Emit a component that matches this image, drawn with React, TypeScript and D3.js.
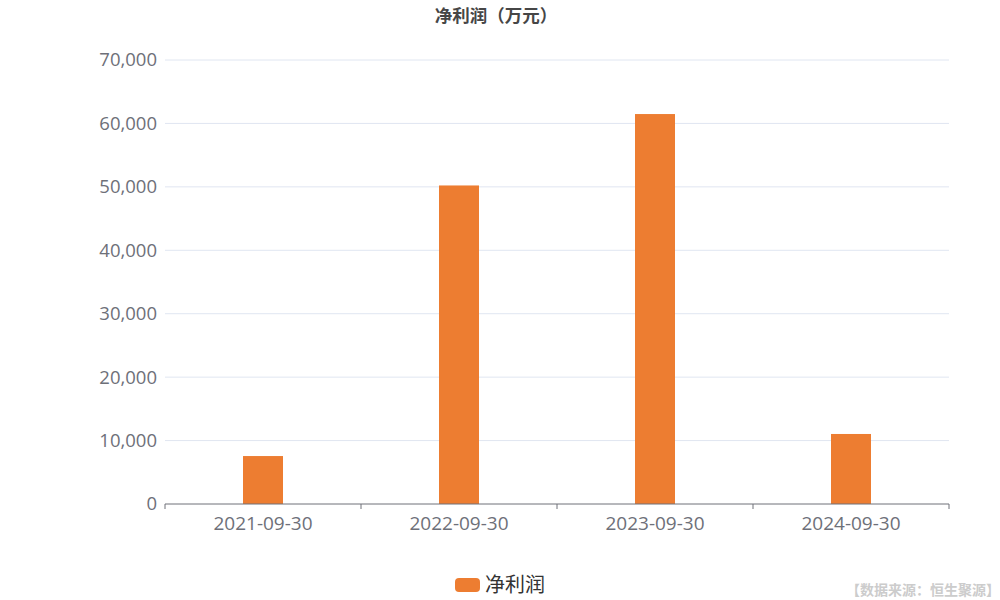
import * as d3 from 'd3';

const categories = ['2021-09-30', '2022-09-30', '2023-09-30', '2024-09-30'];
const netProfit = [7560, 50220, 61480, 11040];
const yTicks = [0, 10000, 20000, 30000, 40000, 50000, 60000, 70000];

const W = 1000;
const H = 600;
const margin = { top: 60, right: 51, bottom: 96, left: 165 };
const CN = '"Noto Sans CJK SC", "Open Sans", sans-serif';
const NUM = '"Open Sans", "Noto Sans CJK SC", sans-serif';

export default function App() {
  const x = d3.scaleBand<string>()
    .domain(categories)
    .range([margin.left, W - margin.right])
    .padding(0);
  const y = d3.scaleLinear()
    .domain([0, 70000])
    .range([H - margin.bottom, margin.top]);
  const fmt = d3.format(',');
  const barW = x.bandwidth() * 0.204;
  const base = y(0);

  return (
    <svg width={W} height={H} style={{ position: 'absolute', left: 0, top: 0, background: '#fff' }}>
      <text x={496} y={22} textAnchor="middle" fontFamily={CN} fontWeight="bold" fontSize={17.5} fill="#464646">
        净利润（万元）
      </text>
      {yTicks.map(t => (
        <g key={t}>
          {t > 0 && (
            <line x1={margin.left} x2={W - margin.right} y1={y(t)} y2={y(t)} stroke="#e0e6f1" />
          )}
          <text x={margin.left - 8} y={y(t)} dy="0.35em" textAnchor="end" fontFamily={NUM} fontSize={18.5} fill="#6e7079">
            {fmt(t)}
          </text>
        </g>
      ))}
      {categories.map((c, i) => (
        <rect key={c} x={x(c)! + (x.bandwidth() - barW) / 2} y={y(netProfit[i])} width={barW}
          height={base - y(netProfit[i])} fill="#ed7d31" />
      ))}
      <line x1={margin.left} x2={W - margin.right} y1={base} y2={base} stroke="#6e7079" />
      {[...categories.map(c => x(c)!), W - margin.right].map((px, i) => (
        <line key={i} x1={px} x2={px} y1={base} y2={base + 5} stroke="#6e7079" />
      ))}
      {categories.map(c => (
        <text key={c} x={x(c)! + x.bandwidth() / 2} y={base + 26} textAnchor="middle" fontFamily={NUM} fontSize={19} fill="#6e7079">
          {c}
        </text>
      ))}
      <rect x={455} y={578} width={25} height={14} rx={4} fill="#ed7d31" />
      <text x={485} y={585} dy="0.35em" fontFamily={CN} fontSize={20} fill="#333">净利润</text>
      <text x={1000} y={595} textAnchor="end" fontFamily={CN} fontWeight="bold" fontSize={14} fill="#cccccc">
        【数据来源：恒生聚源】
      </text>
    </svg>
  );
}
